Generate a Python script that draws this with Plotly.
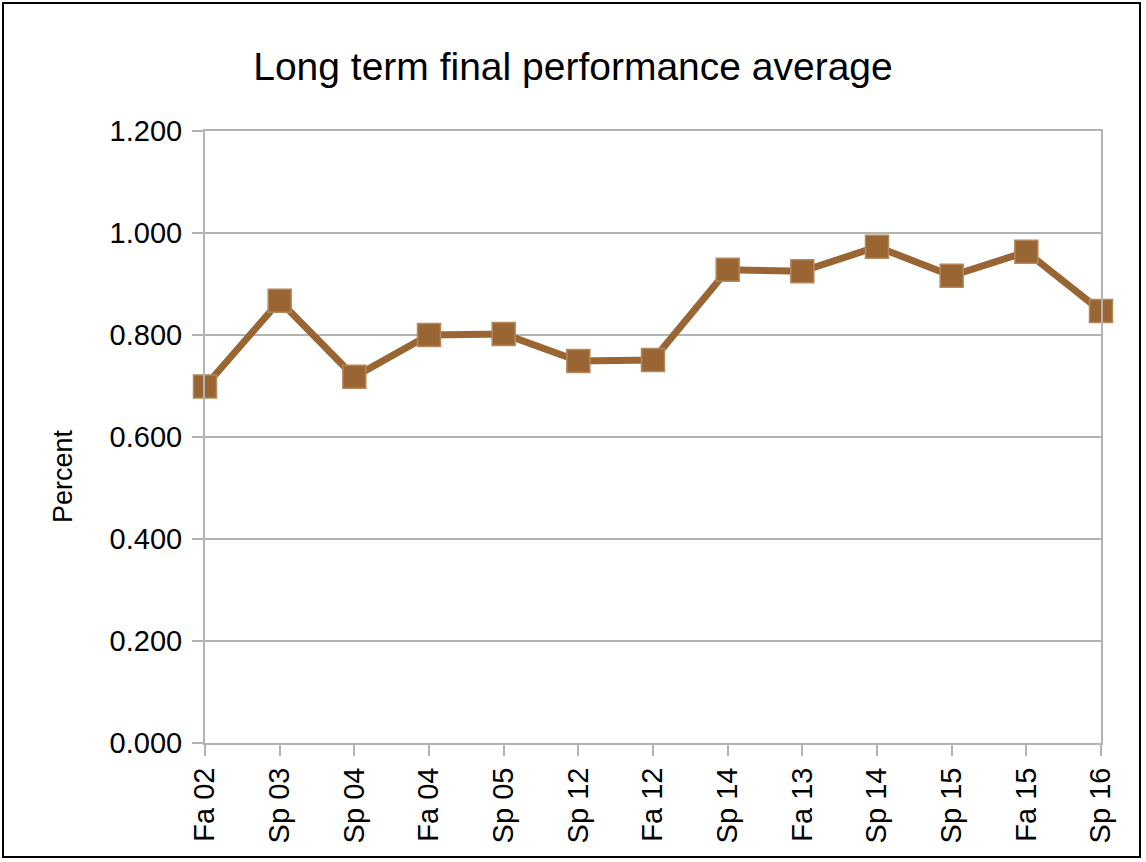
import plotly.graph_objects as go

terms = ["Fa 02", "Sp 03", "Sp 04", "Fa 04", "Sp 05", "Sp 12", "Fa 12",
         "Sp 14", "Fa 13", "Sp 14", "Sp 15", "Fa 15", "Sp 16"]
averages = [0.699, 0.867, 0.718, 0.800, 0.802, 0.749, 0.751,
            0.928, 0.925, 0.973, 0.916, 0.963, 0.847]
y_ticks = [0.0, 0.2, 0.4, 0.6, 0.8, 1.0, 1.2]

positions = list(range(len(terms)))

W, H = 1146, 862
L, R, T, B = 205, 45, 131, 119
pw, ph = W - L - R, H - T - B

def px_x(p):
    return (p - L) / pw

def px_y(p):
    return (H - B - p) / ph

fig = go.Figure()
fig.add_trace(go.Scatter(
    x=positions, y=averages, mode="lines+markers",
    line=dict(color="#996633", width=7),
    marker=dict(symbol="square", size=23, color="#996633",
                line=dict(color="#b5875a", width=1.5)),
    cliponaxis=False, showlegend=False, hoverinfo="skip",
))

grid = "#b3b3b3"
font_family = "Liberation Sans, Arial, sans-serif"

fig.update_layout(
    width=W, height=H,
    margin=dict(l=L, r=R, t=T, b=B, autoexpand=False),
    paper_bgcolor="white", plot_bgcolor="white",
    font=dict(family=font_family, color="black"),
    title=dict(text="Long term final performance average",
               x=0.5, xref="container", xanchor="center",
               y=1 - 66 / H, yref="container", yanchor="middle",
               font=dict(size=39, family=font_family, color="black")),
    xaxis=dict(
        range=[0, len(terms) - 1], tickmode="array",
        tickvals=positions, ticktext=terms, tickangle=-90,
        tickfont=dict(size=29), showgrid=False, zeroline=False,
        showline=True, linecolor=grid, linewidth=2, mirror=True,
        ticks="outside", ticklen=11, tickwidth=2, tickcolor=grid,
    ),
    yaxis=dict(
        range=[0, 1.2], tickmode="array", tickvals=y_ticks,
        tickformat=".3f", tickfont=dict(size=29), ticklabelstandoff=4,
        showgrid=True, gridcolor=grid, gridwidth=2, zeroline=False,
        showline=True, linecolor=grid, linewidth=2, mirror=True,
        ticks="outside", ticklen=11, tickwidth=2, tickcolor=grid,
    ),
    annotations=[dict(text="Percent", textangle=-90, showarrow=False,
                      xref="paper", yref="paper", x=px_x(63), y=px_y(476),
                      xanchor="center", yanchor="middle",
                      font=dict(size=27, family=font_family, color="black"))],
    shapes=[dict(type="rect", xref="paper", yref="paper",
                 x0=px_x(3), x1=px_x(1140), y0=px_y(857), y1=px_y(3),
                 line=dict(color="black", width=2), layer="below")],
)

fig.write_html("out.html", config={"displayModeBar": False})

with open("out.html", "r", encoding="utf-8") as f:
    html = f.read()
html = html.replace("<head>", "<head><style>html,body{margin:0;padding:0;overflow:hidden;}</style>", 1)
with open("out.html", "w", encoding="utf-8") as f:
    f.write(html)
